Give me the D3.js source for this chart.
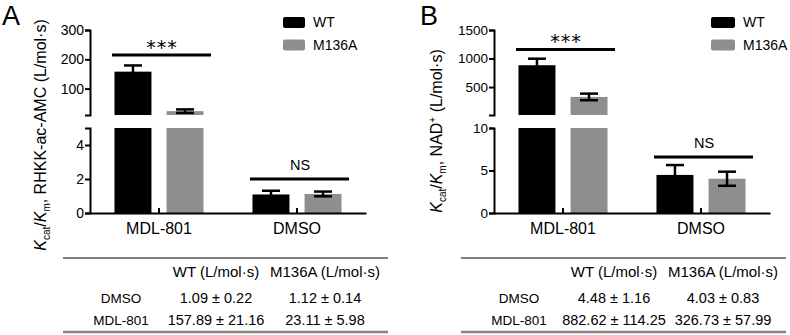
<!DOCTYPE html>
<html>
<head>
<meta charset="utf-8">
<script src="https://cdn.jsdelivr.net/npm/d3@7"></script>
<style>
  body { margin: 0; background: #fff; }
  svg { display: block; font-family: "Liberation Sans", Arial, sans-serif; }
</style>
</head>
<body>
<svg width="790" height="335"></svg>
<script>
  var categories = ["MDL-801", "DMSO"];
  var series = ["WT", "M136A"];
  var colors = ["#000000", "#8e8e8e"];

  // panel A : RHKK-ac-AMC
  var meanA_WT = [157.89, 1.09];
  var sdA_WT = [21.16, 0.22];
  var meanA_M136A = [23.11, 1.12];
  var sdA_M136A = [5.98, 0.14];
  var upperTicksA = [100, 200, 300];
  var lowerTicksA = [0, 2, 4];
  var sigLabelsA = ["***", "NS"];
  var sigLevelsA = [215, 2];

  // panel B : NAD+
  var meanB_WT = [882.62, 4.48];
  var sdB_WT = [114.25, 1.16];
  var meanB_M136A = [326.73, 4.03];
  var sdB_M136A = [57.99, 0.83];
  var upperTicksB = [500, 1000, 1500];
  var lowerTicksB = [0, 5, 10];
  var sigLabelsB = ["***", "NS"];
  var sigLevelsB = [1160, 6.6];

  // table
  var tableRows = ["DMSO", "MDL-801"];
  var tableCols = ["WT (L/mol·s)", "M136A (L/mol·s)"];

  var svg = d3.select("svg");

  var panels = [
    { letter: "A", lx: 2, ox: 90, upDomain: [10, 300], lowDomain: [0, 5],
      upTicks: upperTicksA, lowTicks: lowerTicksA, tickFont: 14,
      means: [meanA_WT, meanA_M136A], sds: [sdA_WT, sdA_M136A],
      sigLabels: sigLabelsA, sigLevels: sigLevelsA,
      titleX: 46, titleY: 135, substrate: "RHKK-ac-AMC", sup: false,
      legX: 283, legW: 22, tx: 63 },
    { letter: "B", lx: 420, ox: 494, upDomain: [10, 1500], lowDomain: [0, 10],
      upTicks: upperTicksB, lowTicks: lowerTicksB, tickFont: 13.5,
      means: [meanB_WT, meanB_M136A], sds: [sdB_WT, sdB_M136A],
      sigLabels: sigLabelsB, sigLevels: sigLevelsB,
      titleX: 442, titleY: 131, substrate: "NAD", sup: true,
      legX: 711, legW: 24, tx: 461 }
  ];

  var plain = function(d) { return String(d); };

  var draw = function(p) {
    var g = svg.append("g");

    var x0 = d3.scaleBand().domain(categories).range([p.ox, p.ox + 276]);
    var x1 = d3.scaleBand().domain(series).range([0, x0.bandwidth()])
      .paddingInner(0.29).paddingOuter(0.47);
    var yUp = d3.scaleLinear().domain(p.upDomain).range([115, 30]);
    var yLow = d3.scaleLinear().domain(p.lowDomain).range([213, 128]);
    var lowMax = p.lowDomain[1];
    var upMin = p.upDomain[0];

    var bars = [];
    series.forEach(function(s, i) {
      categories.forEach(function(c, j) {
        bars.push({ cat: c, ser: s, mean: p.means[i][j], sd: p.sds[i][j], color: colors[i] });
      });
    });

    // lower part of each bar
    g.selectAll("rect.low").data(bars).enter().append("rect")
      .attr("x", function(d) { return x0(d.cat) + x1(d.ser); })
      .attr("width", x1.bandwidth())
      .attr("y", function(d) { return yLow(Math.min(d.mean, lowMax)); })
      .attr("height", function(d) { return yLow(0) - yLow(Math.min(d.mean, lowMax)); })
      .attr("fill", function(d) { return d.color; });

    // upper part, for bars that go past the break
    g.selectAll("rect.up").data(bars.filter(function(d) { return d.mean > lowMax; })).enter().append("rect")
      .attr("x", function(d) { return x0(d.cat) + x1(d.ser); })
      .attr("width", x1.bandwidth())
      .attr("y", function(d) { return yUp(d.mean); })
      .attr("height", function(d) { return yUp(upMin) - yUp(d.mean); })
      .attr("fill", function(d) { return d.color; });

    // error bars
    var eb = g.selectAll("g.err").data(bars).enter().append("g")
      .attr("stroke", "#000").attr("stroke-width", 2.5);
    var sc = function(d) { return d.mean > lowMax ? yUp : yLow; };
    var cx = function(d) { return x0(d.cat) + x1(d.ser) + x1.bandwidth() / 2; };
    eb.append("line")
      .attr("x1", cx).attr("x2", cx)
      .attr("y1", function(d) { return sc(d)(d.mean - d.sd); })
      .attr("y2", function(d) { return sc(d)(d.mean + d.sd); });
    [-1, 1].forEach(function(k) {
      eb.append("line")
        .attr("x1", function(d) { return cx(d) - 9; })
        .attr("x2", function(d) { return cx(d) + 9; })
        .attr("y1", function(d) { return sc(d)(d.mean + k * d.sd); })
        .attr("y2", function(d) { return sc(d)(d.mean + k * d.sd); });
    });

    // axes
    var styleAxis = function(a, size) {
      a.attr("font-family", null).attr("font-size", size);
      a.selectAll("path, line").attr("stroke", "#000").attr("stroke-width", 2);
      a.selectAll("text").attr("fill", "#000");
    };
    g.append("g").attr("transform", "translate(" + p.ox + ",0)")
      .call(d3.axisLeft(yUp).tickValues(p.upTicks).tickFormat(plain).tickSize(5).tickPadding(1))
      .call(styleAxis, p.tickFont);
    g.append("g").attr("transform", "translate(" + p.ox + ",0)")
      .call(d3.axisLeft(yLow).tickValues(p.lowTicks).tickFormat(plain).tickSize(5).tickPadding(1))
      .call(styleAxis, p.tickFont);
    g.append("g").attr("transform", "translate(0,213)")
      .call(d3.axisBottom(x0).tickSizeInner(-5).tickSizeOuter(0).tickPadding(10))
      .call(styleAxis, 16);

    // significance
    categories.forEach(function(c, j) {
      var scale = p.sigLevels[j] > lowMax ? yUp : yLow;
      var yy = scale(p.sigLevels[j]);
      var mid = x0(c) + x0.bandwidth() / 2;
      g.append("line").attr("x1", mid - 47).attr("x2", mid + 52)
        .attr("y1", yy).attr("y2", yy)
        .attr("stroke", "#000").attr("stroke-width", 3);
      var star = p.sigLabels[j] === "***";
      g.append("text").attr("x", mid + 3).attr("y", star ? yy - 1 : yy - 9)
        .attr("text-anchor", "middle")
        .attr("font-family", star ? "DejaVu Sans" : null)
        .attr("font-size", star ? 19 : 14.5)
        .attr("letter-spacing", star ? 1 : 0)
        .text(p.sigLabels[j]);
    });

    // legend
    series.forEach(function(s, i) {
      g.append("rect").attr("x", p.legX).attr("y", 17 + i * 22.5)
        .attr("width", p.legW).attr("height", 11).attr("rx", 2)
        .attr("fill", colors[i]);
      g.append("text").attr("x", p.legX + p.legW + 8).attr("y", 22.5 + i * 22.5)
        .attr("dy", "0.35em").attr("font-size", 14).text(s);
    });

    // panel letter
    svg.append("text").attr("x", p.lx).attr("y", 25).attr("font-size", 27).text(p.letter);

    // y title
    var t = svg.append("text")
      .attr("transform", "translate(" + p.titleX + "," + p.titleY + ") rotate(-90)")
      .attr("text-anchor", "middle").attr("font-size", 16);
    t.append("tspan").attr("font-style", "italic").text("K");
    t.append("tspan").attr("font-size", 10).attr("dy", 4).text("cat");
    t.append("tspan").attr("dy", -4).text("/");
    t.append("tspan").attr("font-style", "italic").text("K");
    t.append("tspan").attr("font-size", 10).attr("dy", 4).text("m");
    t.append("tspan").attr("dy", -4).text(", " + p.substrate);
    if (p.sup) {
      t.append("tspan").attr("font-size", 10).attr("dy", -6).text("+");
      t.append("tspan").attr("dy", 6).text(" (L/mol·s)");
    } else {
      t.append("tspan").text(" (L/mol·s)");
    }

    // table
    var tb = svg.append("g").attr("transform", "translate(" + p.tx + ",0)");
    tb.append("line").attr("x1", 0).attr("x2", 325).attr("y1", 258).attr("y2", 258)
      .attr("stroke", "#555").attr("stroke-width", 1.5);
    tb.append("line").attr("x1", 0).attr("x2", 325).attr("y1", 332).attr("y2", 332)
      .attr("stroke", "#858585").attr("stroke-width", 2.5);
    var colX = [153, 262];
    tableCols.forEach(function(h, i) {
      tb.append("text").attr("x", colX[i]).attr("y", 277).attr("text-anchor", "middle")
        .attr("font-size", 15).text(h);
    });
    tableRows.forEach(function(r, k) {
      var yy = 303 + k * 22;
      var j = categories.indexOf(r);
      tb.append("text").attr("x", 58).attr("y", yy).attr("text-anchor", "middle")
        .attr("font-size", 13.5).text(r);
      series.forEach(function(s, i) {
        tb.append("text").attr("x", colX[i]).attr("y", yy).attr("text-anchor", "middle")
          .attr("font-size", 14.5)
          .text(p.means[i][j].toFixed(2) + " ± " + p.sds[i][j].toFixed(2));
      });
    });
  };

  panels.forEach(draw);
</script>
</body>
</html>
